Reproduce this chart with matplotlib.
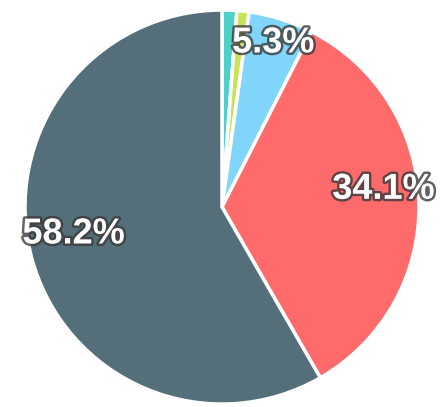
import matplotlib
matplotlib.use("Agg")
import matplotlib.pyplot as plt
import matplotlib.patheffects as pe
import numpy as np

# slices in clockwise order from 12 o'clock
labels = ["A", "B", "C", "D", "E"]
values = [1.2, 1.0, 5.3, 34.1, 58.2]
colors = ["#4dd0c8", "#c6e35a", "#81d4fa", "#ff6b6b", "#546e7a"]
shown = ["", "", "5.3%", "34.1%", "58.2%"]

fig = plt.figure(figsize=(4.43, 4.07), dpi=100)
ax = fig.add_axes([0, 0, 1, 1])

wedges, _ = ax.pie(values, colors=colors, startangle=90, counterclock=False,
                   radius=1.0, wedgeprops=dict(edgecolor="white", linewidth=2.5))

# percent labels placed at ~0.8 of the radius, nudged up a bit
for w, txt in zip(wedges, shown):
    if not txt:
        continue
    mid = np.deg2rad((w.theta1 + w.theta2) / 2)
    r = 0.8
    ax.text(r * np.cos(mid) + 0.02, r * np.sin(mid) + 0.07, txt, ha="center", va="center",
            fontsize=26, fontweight="bold", family="Liberation Sans", color="white",
            path_effects=[pe.withStroke(linewidth=3.5, foreground="#3a3a3a", alpha=0.8)])

ax.set_xlim(-1.127, 1.122)
ax.set_ylim(-1.015, 1.051)
ax.set_aspect("auto")
ax.axis("off")

fig.savefig("out.png", dpi=100)
